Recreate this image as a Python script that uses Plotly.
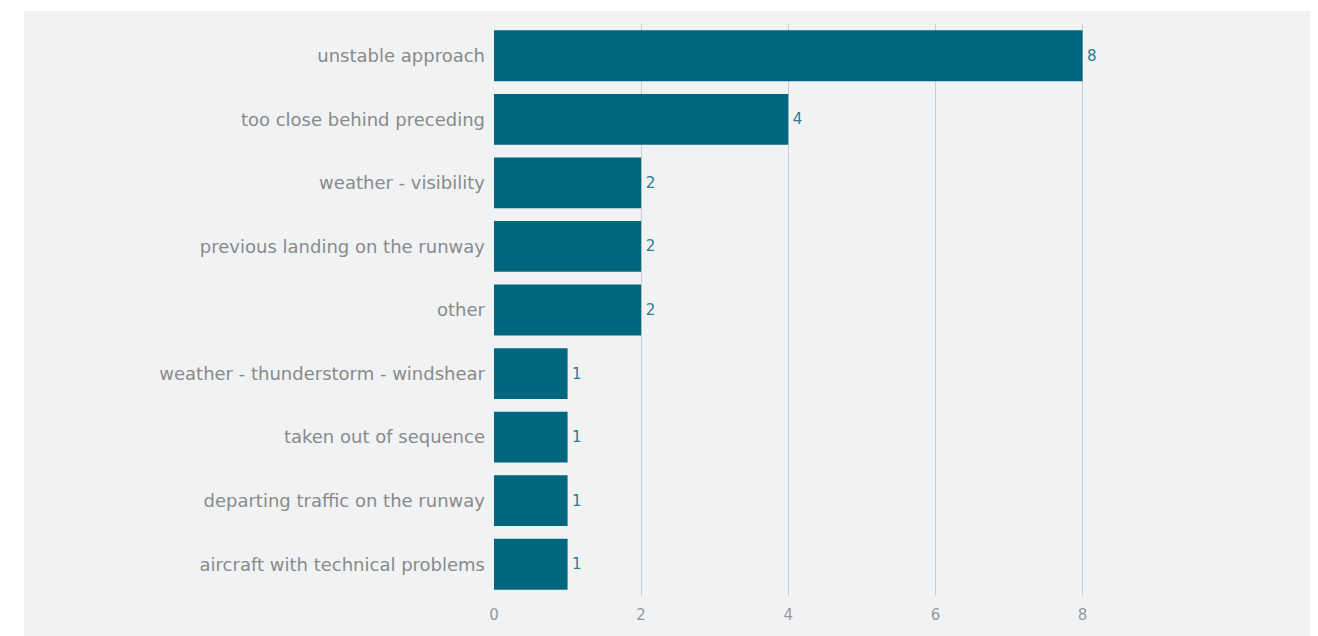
import plotly.graph_objects as go

# Reasons for go-around, number of occurrences
reasons = [
    "unstable approach",
    "too close behind preceding",
    "weather - visibility",
    "previous landing on the runway",
    "other",
    "weather - thunderstorm - windshear",
    "taken out of sequence",
    "departing traffic on the runway",
    "aircraft with technical problems",
]
counts = [8, 4, 2, 2, 2, 1, 1, 1, 1]
x_ticks = [0, 2, 4, 6, 8]

BAR = "#00677f"
PANEL = "#f0f2f4"
GRAY = "#8a8a8a"
FONT = "DejaVu Sans"

fig = go.Figure(
    go.Bar(
        x=counts,
        y=reasons,
        orientation="h",
        marker=dict(color=BAR, line=dict(width=0)),
        texttemplate="\u200a%{x}",
        textposition="outside",
        textfont=dict(family=FONT, size=15, color="#2b7d91"),
        cliponaxis=False,
        hoverinfo="x+y",
    )
)

fig.update_layout(
    width=1318,
    height=636,
    margin=dict(l=494, r=206, t=24, b=40),
    paper_bgcolor="white",
    plot_bgcolor=PANEL,
    bargap=0.2,
    showlegend=False,
    font=dict(family=FONT, color=GRAY),
    shapes=[
        dict(
            type="rect", xref="paper", yref="paper",
            x0=-470 / 618, x1=(1310 - 494) / 618,
            y0=-40 / 572, y1=(636 - 11 - 40) / 572,
            fillcolor=PANEL, line=dict(width=0), layer="below",
        )
    ],
)

fig.update_xaxes(
    range=[0, 8.4],
    tickvals=x_ticks,
    showgrid=True,
    gridcolor="#cacdd0",
    gridwidth=1,
    zeroline=True,
    zerolinecolor=PANEL,
    showline=False,
    ticks="outside",
    ticklen=5,
    tickcolor="rgba(0,0,0,0)",
    tickfont=dict(family=FONT, size=15, color="#999999"),
)
fig.update_yaxes(
    categoryorder="array",
    categoryarray=reasons[::-1],
    showgrid=False,
    zeroline=False,
    showline=False,
    ticks="",
    ticklabelstandoff=8,
    tickfont=dict(family=FONT, size=18, color=GRAY),
)

fig.write_html("out.html")
